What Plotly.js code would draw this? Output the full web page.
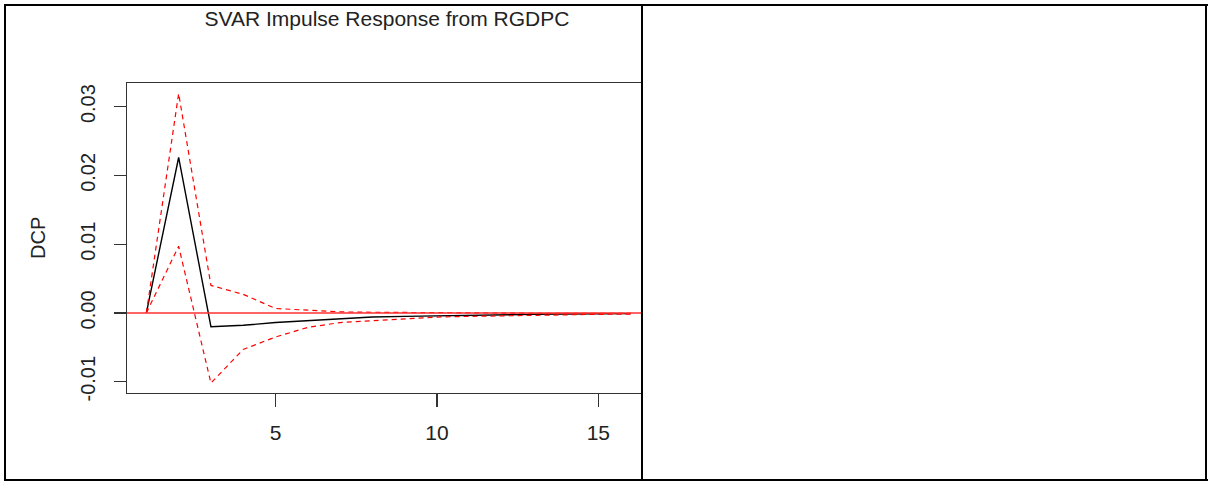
<!DOCTYPE html>
<html>
<head>
<meta charset="utf-8">
<script src="https://cdn.plot.ly/plotly-3.0.1.min.js"></script>
<style>
  html, body { margin: 0; padding: 0; background: #fff; width: 1208px; height: 481px; overflow: hidden; }
  #clip { position: absolute; left: 0; top: 0; width: 642px; height: 481px; overflow: hidden; }
  #chart { position: absolute; left: 0; top: 0; width: 700px; height: 481px; }
  .ln { position: absolute; background: #000; }
</style>
</head>
<body>
<div id="clip"><div id="chart"></div></div>
<div class="ln" style="left:4px;top:4px;width:1204px;height:2px;"></div>
<div class="ln" style="left:4px;top:479px;width:1204px;height:2px;"></div>
<div class="ln" style="left:4px;top:4px;width:2px;height:477px;"></div>
<div class="ln" style="left:1205px;top:4px;width:2px;height:477px;"></div>
<div class="ln" style="left:641px;top:4px;width:2px;height:477px;"></div>
<script>
const periods = [1, 2, 3, 4, 5, 6, 7, 8, 9, 10, 11, 12, 13, 14, 15, 16];
const irf   = [0, 0.0226, -0.0020, -0.0018, -0.0014, -0.0011, -0.0008, -0.0006, -0.0005, -0.0004, -0.0003, -0.00025, -0.0002, -0.00016, -0.00013, -0.0001];
const upper = [0, 0.0319, 0.0040, 0.0027, 0.00065, 0.0004, 0.00015, 0.0001, 0.00005, 0.0, -0.00002, -0.00004, -0.00005, -0.00006, -0.00006, -0.00006];
const lower = [0, 0.0097, -0.0102, -0.0053, -0.0035, -0.0021, -0.0014, -0.0011, -0.0008, -0.0006, -0.0005, -0.0004, -0.0003, -0.00025, -0.0002, -0.00017];
const yTicks = [-0.01, 0.00, 0.01, 0.02, 0.03];
const xTicks = [5, 10, 15];
const titleText = 'SVAR Impulse Response from RGDPC';
const yLabel = 'DCP';

const font = 'Liberation Sans, Arial, sans-serif';
const traces = [
  { x: periods, y: irf, type: 'scatter', mode: 'lines', line: { color: '#000', width: 1.4 }, hoverinfo: 'skip' },
  { x: periods, y: lower, type: 'scatter', mode: 'lines', line: { color: '#ff0000', width: 1.2, dash: '5px,4px' }, hoverinfo: 'skip' },
  { x: periods, y: upper, type: 'scatter', mode: 'lines', line: { color: '#ff0000', width: 1.2, dash: '5px,4px' }, hoverinfo: 'skip' }
];
const layout = {
  width: 700, height: 481,
  margin: { l: 127, r: 50, t: 83, b: 88 },
  paper_bgcolor: 'rgba(0,0,0,0)', plot_bgcolor: 'rgba(0,0,0,0)',
  showlegend: false,
  title: { text: titleText, font: { family: font, size: 21, color: '#222' }, xref: 'container', x: 387/700, xanchor: 'center', yref: 'container', y: 1 - 19/481, yanchor: 'middle' },
  xaxis: {
    range: [0.4, 16.6], tickvals: xTicks, ticktext: xTicks.map(String),
    showgrid: false, zeroline: false, showline: true, mirror: true, linecolor: '#333', linewidth: 1.3,
    ticks: 'outside', ticklen: 13, tickwidth: 1.3, tickcolor: '#333', ticklabelstandoff: 7,
    tickfont: { family: font, size: 21, color: '#222' }
  },
  yaxis: {
    range: [-0.01164, 0.03343], tickvals: yTicks, ticktext: yTicks.map(v => v.toFixed(2)),
    showgrid: false, zeroline: false, showline: true, mirror: true, linecolor: '#333', linewidth: 1.3,
    ticks: 'outside', ticklen: 12, tickwidth: 1.3, tickcolor: '#333', tickangle: -90, ticklabelstandoff: 11,
    tickfont: { family: font, size: 20, color: '#222' }
  },
  shapes: [
    { type: 'line', xref: 'paper', x0: 0, x1: 1, yref: 'y', y0: 0, y1: 0, line: { color: '#ff3030', width: 1.6 } }
  ],
  annotations: [
    { text: yLabel, xref: 'paper', x: 0, xshift: -89, xanchor: 'center', yref: 'paper', y: 0.5, yanchor: 'middle', textangle: -90, showarrow: false, font: { family: font, size: 20, color: '#222' } }
  ]
};
Plotly.newPlot('chart', traces, layout, { staticPlot: true, displayModeBar: false });
</script>
</body>
</html>
